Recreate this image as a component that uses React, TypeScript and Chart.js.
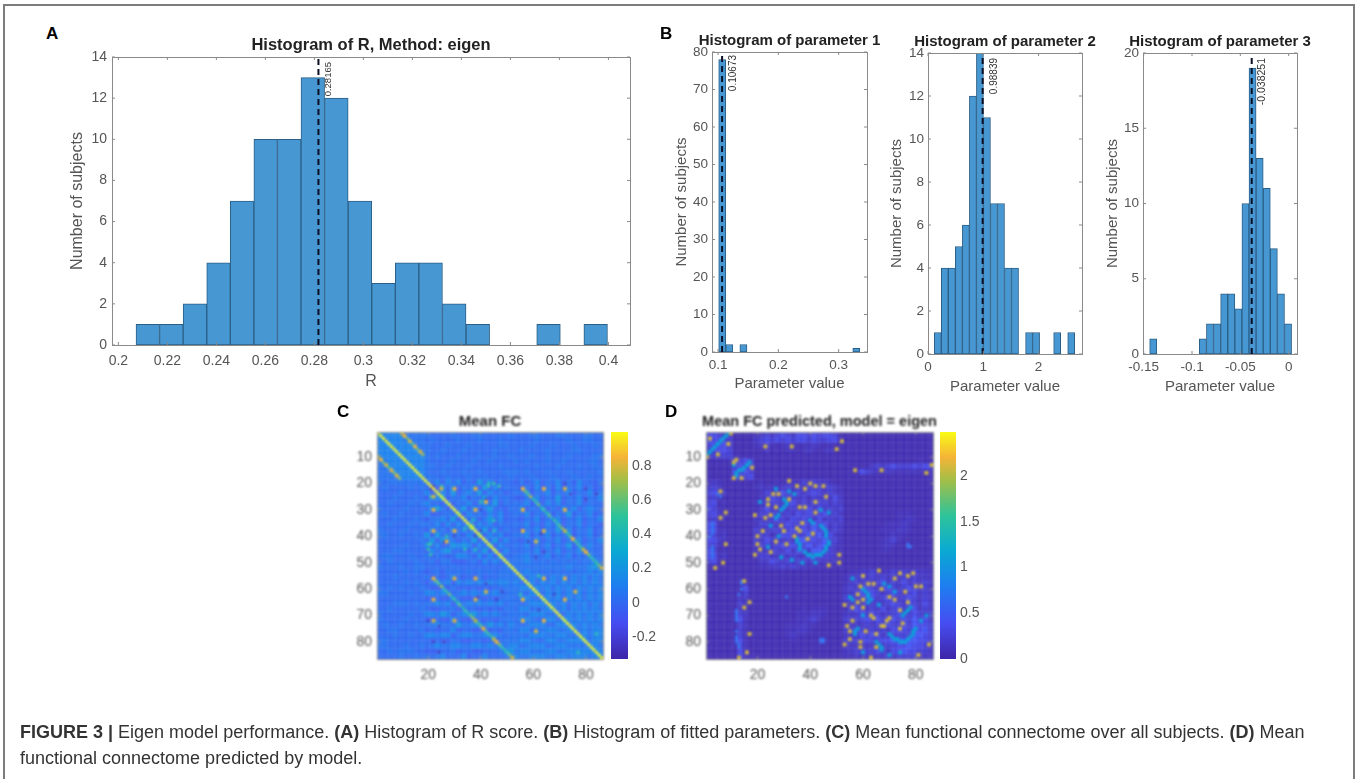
import React, { useEffect, useRef } from "react";
import { Chart, registerables } from "chart.js";

Chart.register(...registerables);

// ---------- histogram data ----------
const rCounts = [1, 1, 2, 4, 7, 10, 10, 13, 12, 7, 3, 4, 4, 2, 1, 0, 0, 1, 0, 1];
const rBinStart = 0.2072;
const rBinWidth = 0.00962;
const rMean = 0.28165;
const rTicksX = [0.2, 0.22, 0.24, 0.26, 0.28, 0.3, 0.32, 0.34, 0.36, 0.38, 0.4];
const rTicksY = [0, 2, 4, 6, 8, 10, 12, 14];

const p1Counts = [78, 2, 0, 2, 0, 0, 0, 0, 0, 0, 0, 0, 0, 0, 0, 0, 0, 0, 0, 1];
const p1BinStart = 0.1011;
const p1BinWidth = 0.0117;
const p1Mean = 0.10673;
const p1TicksX = [0.1, 0.2, 0.3];
const p1TicksY = [0, 10, 20, 30, 40, 50, 60, 70, 80];

const p2Counts = [1, 4, 4, 5, 6, 12, 14, 11, 7, 7, 4, 4, 0, 1, 1, 0, 0, 1, 0, 1];
const p2BinStart = 0.1135;
const p2BinWidth = 0.127;
const p2Mean = 0.98839;
const p2TicksX = [0, 1, 2];
const p2TicksY = [0, 2, 4, 6, 8, 10, 12, 14];

const p3Counts = [1, 0, 0, 0, 0, 0, 0, 1, 2, 2, 4, 4, 3, 10, 19, 13, 11, 7, 4, 2];
const p3BinStart = -0.1438;
const p3BinWidth = 0.00734;
const p3Mean = -0.038251;
const p3TicksX = [-0.15, -0.1, -0.05, 0];
const p3TicksY = [0, 5, 10, 15, 20];

// ---------- matrix data (upper triangle, 2x2 coarse texture, digits index the level tables) ----------
const matrixTicksX = [20, 40, 60, 80];
const matrixTicksY = [10, 20, 30, 40, 50, 60, 70, 80];

const fcLevels = [-0.24, -0.16, -0.1, -0.04, 0.01, 0.05, 0.12, 0.2, 0.3, 0.4];
const fcUpper = [
  "6666655555444454445544444544455444554445544",
  "66665555454444544454445444444544444544554",
  "6666655544454445444445544445444544454445454",
  "666665544544454444454444544445444455444",
  "6666654544454445445445444544544454444554",
  "666654444544454454444545444544544445544",
  "6665544544454444454444445444544454454",
  "6654454445445444455545444544454444450",
  "655445444544544445444544454445445",
  "5463646353746354435346354635364435",
  "63646354637363544353635363546353",
  "56473564736453454635463546354635",
  "73546354736454335463547354635464",
  "63546356473545463536463546354",
  "5473645744354635463536463565",
  "736453646345463546354735463",
  "546357463443546354635463546",
  "73646354454635364635463543",
  "647363544354635473635463",
  "73646345563546354635463",
  "64736443546354635463546",
  "736445463546354735464",
  "6364445463546354635",
  "74455645463546354654",
  "5555654545454545565",
  "555555555556555675",
  "55655454545455656",
  "6465646564656465",
  "564656465646565",
  "46564656465656",
  "6465646564656",
  "565646564656",
  "46564656465",
  "6564656565",
  "546565656",
  "66565656",
  "5656565",
  "656566",
  "56566",
  "6566",
  "665",
  "66",
  "6",
];
const fcDiagonal = [
  1, 1, 1, 0.98, 1, 1, 0.98, 1, 1, 1, 1, 0.98, 1, 1, 1, 1, 1, 0.98, 1, 1, 1, 1, 0.98, 1, 1, 1, 1, 1, 0.98, 1, 1, 1, 1, 1, 1, 0.98, 1, 1, 1, 1,
  1, 0.98, 1, 1, 1, 1, 1, 0.98, 1, 1, 1, 1, 1, 1, 0.98, 1, 1, 1, 1, 1, 0.98, 1, 1, 1, 1, 1, 1, 0.98, 1, 1, 1, 1, 1, 1, 0.98, 1, 1, 1, 1, 1,
  1, 0.98, 1, 1, 1, 1,
];
const fcBandNear = [0.78, 0.84, 0.6, 0.8, 0.55, 0.84, 0.62, 0.82, 0.7];
const fcBandFar = [
  0.84, 0.62, 0.55, 0.72, 0.42, 0.48, 0.62, 0.38, 0.52, 0.42, 0.6, 0.4, 0.5, 0.42, 0.58, 0.68, 0.75, 0.45, 0.58, 0.84, 0.52, 0.5, 0.45, 0.75, 0.84,
  0.65, 0.48, 0.45, 0.5, 0.62, 0.8,
];
const fcHotCells = [
  [22, 25, 0.8], [22, 30, 0.84], [22, 38, 0.84], [22, 64, 0.84], [22, 72, 0.8],
  [30, 38, 0.84], [30, 56, 0.84], [30, 64, 0.82], [30, 72, 0.84],
  [38, 56, 0.84], [38, 64, 0.8], [38, 72, 0.84],
  [56, 64, 0.84], [56, 72, 0.84], [64, 72, 0.84], [27, 42, 0.84], [27, 61, 0.84],
  [42, 61, 0.8], [42, 76, 0.82], [61, 76, 0.8],
  [36, 37, 0.55], [34, 37, 0.42], [20, 45, 0.5], [21, 43, 0.45], [25, 21, 0.48], [43, 20, 0.45], [21, 47, 0.48],
  [38, 45, 0.45], [27, 40, 0.48], [34, 45, 0.45], [55, 62, 0.48], [77, 84, 0.45], [51, 85, 0.48],
  [22, 21, -0.3], [30, 40, -0.25], [38, 40, -0.3], [42, 58, -0.3], [22, 80, -0.3], [39, 63, -0.3], [42, 26, -0.3],
  [61, 48, -0.3], [64, 46, -0.3], [72, 20, -0.3], [84, 24, -0.3], [68, 62, -0.3], [26, 80, -0.3], [24, 74, -0.3],
];

const predLevels = [0.02, 0.05, 0.09, 0.14, 0.22, 0.32, 0.45, 0.65, 0.9, 1.2];
const predUpper = [
  "5543311112343454355454554111111111111111111",
  "554411113454545455454455211111111111111111",
  "55411112342123212232121111111111111111111",
  "5411111131212212321231111111111111111111",
  "421111111111111111111111111111111111111",
  "5454111111111111111111111111111111121111",
  "5451111111111111111111111343454445455454",
  "5411111111111111111111543223222222222322",
  "5111111111111111111111111111111111211111",
  "121121232434332111111111111111111",
  "32323434343434321111111111111111",
  "434543434543432111111111111111",
  "54344342434353111111111111111",
  "43453434443431111111111111",
  "53434535343411111111111111",
  "435454453431111111111222111",
  "5454353434111111111122321",
  "454645343111111112223211",
  "5464534311111112223321",
  "646353211111111232211",
  "54644211111112342111",
  "564321111111232111",
  "44321111111221111",
  "4321111111111111",
  "311111111111111",
  "21111111111111",
  "12233432343434332",
  "3343434343434332",
  "434345343534343",
  "45434543454342",
  "4543454345343",
  "534543454343",
  "43454354353",
  "5345435343",
  "445345434",
  "54546453",
  "4546554",
  "546564",
  "46654",
  "6554",
  "543",
  "43",
  "3",
];
const predHotTop = [
  [3, 2], [1, 10], [5, 9], [9, 5], [10, 1], [11, 12], [12, 11], [14, 18], [18, 11], [18, 14], [6, 23], [6, 33], [4, 52], [7, 50],
  [15, 57], [15, 67], [16, 84], [13, 86], [23, 6], [33, 6], [31, 8], [43, 8], [50, 7], [52, 4],
  [57, 15], [65, 17], [67, 15], [77, 17], [84, 16], [86, 13],
];
const predHotInner = [
  [19, 32], [20, 40], [21, 42], [21, 45], [22, 38], [21, 35], [25, 46], [24, 28], [24, 26], [26, 24], [26, 32], [28, 24],
  [27, 42], [29, 27], [29, 36], [29, 38], [31, 42], [32, 19], [33, 23], [32, 25], [36, 29], [37, 35], [35, 37], [38, 30],
  [38, 22], [40, 20], [40, 34], [39, 41], [41, 39], [42, 27], [43, 31], [43, 20], [45, 21], [47, 19], [46, 25], [47, 51],
  [51, 47], [50, 51], [38, 36],
];
const predHotOuter = [
  [53, 66], [54, 74], [55, 77], [54, 79], [55, 60], [56, 72], [58, 64], [58, 62], [59, 59], [60, 67], [62, 58], [61, 76],
  [59, 82], [59, 80], [64, 60], [63, 70], [65, 77], [65, 58], [64, 72], [67, 56], [67, 60], [66, 53], [68, 74], [70, 63],
  [71, 70], [72, 69], [72, 56], [71, 64], [74, 67], [73, 75], [74, 68], [75, 74], [76, 61], [74, 54], [76, 55], [77, 65],
  [81, 85], [79, 55], [80, 59], [82, 65], [85, 81], [81, 53], [82, 59], [86, 63],
];
const predMidCells = [
  [46, 38], [47, 39], [47, 40], [48, 41], [47, 42], [47, 43], [47, 44], [46, 45], [45, 46], [44, 46], [43, 47], [42, 47],
  [26, 30], [27, 31], [28, 31], [29, 30], [30, 29], [36, 44], [37, 45], [38, 46], [39, 46], [40, 46], [33, 27], [32, 28],
  [41, 35], [42, 35], [43, 36], [44, 36], [45, 36], [23, 32], [24, 34], [34, 40], [35, 41], [30, 44], [31, 47], [48, 29],
  [49, 33], [50, 37], [50, 42], [44, 24], [40, 28], [36, 25], [27, 21], [22, 27],
  [60, 60], [61, 61], [62, 62], [63, 62], [64, 63], [65, 62], [77, 70], [78, 71], [79, 72], [79, 73], [80, 74], [80, 75],
  [80, 76], [79, 77], [78, 78], [77, 79], [76, 79], [75, 80], [70, 75], [69, 76], [68, 77], [67, 78], [80, 65], [81, 66],
  [82, 67], [83, 67], [75, 58], [76, 57], [77, 57], [63, 55], [64, 56], [58, 68], [59, 70], [61, 72], [66, 66], [72, 82],
  [70, 84], [84, 74], [85, 70], [70, 60], [56, 56], [84, 60],
  [9, 1], [8, 2], [7, 3], [6, 4], [5, 5], [4, 6], [3, 7], [2, 8], [1, 9], [12, 17], [13, 16], [14, 15], [15, 14], [16, 12], [17, 12], [13, 11], [15, 13],
];
const predSoftCells = [
  [35, 3], [36, 3], [37, 3], [38, 3], [39, 3], [40, 2], [44, 3], [45, 3], [46, 3], [47, 3], [48, 3], [24, 5], [25, 6],
  [57, 14], [58, 14], [60, 14], [62, 13], [68, 12], [69, 12], [70, 12], [71, 12], [72, 12], [76, 12], [78, 12], [79, 12], [80, 12], [81, 13], [82, 13],
  [79, 44], [80, 44], [79, 45], [80, 45], [43, 77], [44, 77], [44, 78], [63, 31],
];

// ---------- parula colormap ----------
const parulaStops: number[][] = [
  [0, 62, 38, 168], [0.16, 70, 78, 242], [0.32, 30, 125, 240], [0.48, 10, 170, 210], [0.63, 45, 195, 155],
  [0.79, 165, 190, 70], [0.89, 245, 180, 55], [1, 249, 251, 21],
];

function parula(t: number) {
  const v = Math.max(0, Math.min(1, t));
  for (let i = 1; i < parulaStops.length; i++) {
    const a = parulaStops[i - 1];
    const b = parulaStops[i];
    if (v <= b[0]) {
      const f = (v - a[0]) / (b[0] - a[0]);
      const c = [1, 2, 3].map((k) => Math.round(a[k] + (b[k] - a[k]) * f));
      return `rgb(${c[0]},${c[1]},${c[2]})`;
    }
  }
  return "rgb(249,251,21)";
}

const TICK_COLOR = "#555";
const FONT = "'Liberation Sans', Arial, sans-serif";
const M = { l: 50, t: 40, r: 50, b: 52 };

function boxFor(r: any) {
  return { left: r.L - M.l, top: r.T - M.t, width: M.l + r.R - r.L + M.r, height: M.t + r.B - r.T + M.b };
}

const frameBox = {
  id: "frameBox",
  afterDatasetsDraw(chart: any) {
    const { ctx, chartArea: a, scales } = chart;
    ctx.save();
    ctx.strokeStyle = "#8a8a8a";
    ctx.lineWidth = 1;
    ctx.strokeRect(a.left + 0.5, a.top + 0.5, a.right - a.left, a.bottom - a.top);
    ctx.beginPath();
    for (const t of scales.x.ticks) {
      const p = scales.x.getPixelForValue(t.value);
      ctx.moveTo(p, a.bottom);
      ctx.lineTo(p, a.bottom - 3);
      ctx.moveTo(p, a.top);
      ctx.lineTo(p, a.top + 3);
    }
    for (const t of scales.y.ticks) {
      const p = scales.y.getPixelForValue(t.value);
      ctx.moveTo(a.left, p);
      ctx.lineTo(a.left + 3, p);
      ctx.moveTo(a.right, p);
      ctx.lineTo(a.right - 3, p);
    }
    ctx.stroke();
    ctx.restore();
  },
};

const meanLabel = {
  id: "meanLabel",
  afterDatasetsDraw(chart: any, _args: any, opts: any) {
    if (!opts || !opts.text) return;
    const { ctx, chartArea: a, scales } = chart;
    ctx.save();
    ctx.translate(scales.x.getPixelForValue(opts.mean) + opts.dx, a.top + opts.dy);
    ctx.rotate(-Math.PI / 2);
    ctx.font = `${opts.size}px ${FONT}`;
    ctx.fillStyle = "#333";
    ctx.textAlign = "right";
    ctx.textBaseline = "middle";
    ctx.fillText(opts.text, 0, 0);
    ctx.restore();
  },
};

function commonOptions(p: any) {
  const r = p.rect;
  const titleLh = p.titleSize * 1.2;
  const tickLh = p.tickSize * 1.2;
  const yLh = p.labelSize * 1.2;
  const xTitle = p.xLabel
    ? {
        display: true,
        text: p.xLabel,
        color: TICK_COLOR,
        font: { family: FONT, size: p.labelSize },
        padding: { top: 0, bottom: r.B + M.b - p.xLabelY - yLh / 2 },
      }
    : { display: false };
  const yTitle = p.yLabel
    ? {
        display: true,
        text: p.yLabel,
        color: TICK_COLOR,
        font: { family: FONT, size: p.labelSize },
        padding: { top: p.yLabelX - (r.L - M.l) - yLh / 2, bottom: 0 },
      }
    : { display: false };
  return {
    responsive: false,
    animation: false,
    devicePixelRatio: 1,
    events: [],
    layout: { autoPadding: false, padding: 0 },
    plugins: {
      legend: { display: false },
      tooltip: { enabled: false },
      title: {
        display: true,
        text: p.title,
        color: "#222",
        font: { family: FONT, size: p.titleSize, weight: "bold" },
        padding: { top: M.t - titleLh - (p.titleGap - titleLh / 2), bottom: p.titleGap - titleLh / 2 },
      },
      meanLabel: p.meanLabel,
    },
    scales: {
      x: {
        type: "linear",
        offset: false,
        min: p.xMin,
        max: p.xMax,
        grid: { display: false, drawTicks: false },
        border: { display: false },
        afterBuildTicks: (s: any) => {
          s.ticks = p.xTicks.map((value: number) => ({ value }));
        },
        afterFit: (s: any) => {
          s.height = M.b;
        },
        ticks: {
          color: TICK_COLOR,
          font: { family: FONT, size: p.tickSize },
          padding: p.xTickGap - tickLh / 2,
          autoSkip: false,
          maxRotation: 0,
          callback: (v: number) => String(v),
        },
        title: xTitle,
      },
      y: {
        type: "linear",
        min: p.yMin,
        max: p.yMax,
        reverse: !!p.yReverse,
        grid: { display: false, drawTicks: false },
        border: { display: false },
        afterBuildTicks: (s: any) => {
          s.ticks = p.yTicks.map((value: number) => ({ value }));
        },
        afterFit: (s: any) => {
          s.width = M.l;
        },
        ticks: {
          color: TICK_COLOR,
          font: { family: FONT, size: p.tickSize },
          padding: p.yTickPad,
          autoSkip: false,
          maxRotation: 0,
          callback: (v: number) => String(v),
        },
        title: yTitle,
      },
      spacer: {
        type: "linear",
        position: "right",
        grid: { display: false, drawTicks: false },
        border: { display: false },
        ticks: { display: false },
        afterFit: (s: any) => {
          s.width = M.r;
        },
      },
    },
  };
}

function histConfig(p: any) {
  const bars = p.counts.map((y: number, k: number) => ({ x: p.binStart + p.binWidth * (k + 0.5), y }));
  return {
    type: "bar",
    data: {
      datasets: [
        {
          type: "bar",
          data: bars,
          backgroundColor: "#4797d2",
          borderColor: "#2c5f87",
          borderWidth: 1,
          borderSkipped: false,
          barPercentage: 1,
          categoryPercentage: 1,
          order: 2,
        },
        {
          type: "line",
          data: [
            { x: p.mean, y: p.yMin },
            { x: p.mean, y: p.yMax },
          ],
          borderColor: "#0b0f24",
          borderWidth: 2,
          borderDash: [6, 4],
          pointRadius: 0,
          order: 1,
        },
      ],
    },
    options: commonOptions(p),
    plugins: [frameBox, meanLabel],
  };
}

function expandMatrix(upper: string[], levels: number[], fallback: string, overrides: Map<number, number>, lo: number, hi: number, bigFrom: number, bigTo: number, bigRadius: number) {
  const cells: any[] = [];
  for (let r = 1; r <= 86; r++) {
    for (let c = 1; c <= 86; c++) {
      const a = Math.min(r, c);
      const b = Math.max(r, c);
      const k = Math.floor((a - 1) / 2);
      const j = Math.floor((b - 1) / 2);
      const ch = upper[k]?.[j - k] ?? fallback;
      const key = r * 100 + c;
      const v = overrides.has(key) ? (overrides.get(key) as number) : levels[Number(ch)];
      cells.push({ x: c, y: r, v });
    }
  }
  cells.sort((p, q) => p.v - q.v);
  return cells.map((d) => ({ x: d.x, y: d.y, radius: d.v >= bigFrom && d.v < bigTo ? bigRadius : 2.0, color: parula((d.v - lo) / (hi - lo)) }));
}

function fcCells() {
  const o = new Map<number, number>();
  const put = (r: number, c: number, v: number) => {
    o.set(r * 100 + c, v);
    o.set(c * 100 + r, v);
  };
  fcHotCells.forEach(([r, c, v]) => put(r, c, v));
  fcBandNear.forEach((v, i) => put(i + 1, i + 10, v));
  fcBandFar.forEach((v, i) => put(i + 22, i + 56, v));
  fcDiagonal.forEach((v, i) => put(i + 1, i + 1, v));
  return expandMatrix(fcUpper, fcLevels, "4", o, fcRange[0], fcRange[1], 0.75, 0.95, 2.6);
}

function predCells() {
  const o = new Map<number, number>();
  predSoftCells.forEach(([r, c]) => o.set(r * 100 + c, 0.65));
  predMidCells.forEach(([r, c]) => o.set(r * 100 + c, 1.1));
  predHotTop.forEach(([r, c]) => o.set(r * 100 + c, 2.1));
  predHotInner.forEach(([r, c]) => o.set(r * 100 + c, 2.1));
  predHotOuter.forEach(([r, c]) => o.set(r * 100 + c, 2.1));
  return expandMatrix(predUpper, predLevels, "1", o, predRange[0], predRange[1], 1.0, 3, 2.7);
}

const fcRange = [-0.33, 1.0];
const predRange = [0, 2.48];
const fcBarTicks = [-0.2, 0, 0.2, 0.4, 0.6, 0.8];
const predBarTicks = [0, 0.5, 1, 1.5, 2];

function matrixConfig(p: any, cells: any[]) {
  return {
    type: "scatter",
    data: {
      datasets: [
        {
          data: cells,
          pointStyle: "rect",
          pointRadius: cells.map((c) => c.radius),
          pointBorderWidth: 0,
          pointBackgroundColor: cells.map((c) => c.color),
          showLine: false,
          normalized: true,
        },
      ],
    },
    options: commonOptions(p),
    plugins: [frameBox],
  };
}

function colorbarConfig(range: number[], ticks: number[]) {
  const label = ["colorbar"];
  return {
    type: "bar",
    data: {
      labels: label,
      datasets: [
        {
          data: [[range[0], range[1]]],
          barPercentage: 1,
          categoryPercentage: 1,
          borderWidth: 0,
          backgroundColor: (ctx: any) => {
            const a = ctx.chart.chartArea;
            if (!a) return "#3e26a8";
            const g = ctx.chart.ctx.createLinearGradient(0, a.bottom, 0, a.top);
            parulaStops.forEach((s) => g.addColorStop(s[0], `rgb(${s[1]},${s[2]},${s[3]})`));
            return g;
          },
        },
      ],
    },
    options: {
      responsive: false,
      animation: false,
      devicePixelRatio: 1,
      events: [],
      layout: { autoPadding: false, padding: { left: 0, top: M.t, right: 0, bottom: M.b } },
      plugins: { legend: { display: false }, tooltip: { enabled: false } },
      scales: {
        x: { display: false },
        y: {
          position: "right",
          min: range[0],
          max: range[1],
          grid: { display: false, drawTicks: false },
          border: { display: false },
          afterBuildTicks: (s: any) => {
            s.ticks = ticks.map((value: number) => ({ value }));
          },
          afterFit: (s: any) => {
            s.width = 44;
          },
          ticks: {
            color: TICK_COLOR,
            font: { family: FONT, size: 14 },
            padding: 4,
            autoSkip: false,
            callback: (v: number) => String(v),
          },
        },
      },
    },
  };
}

// ---------- panels ----------
const histShared = { titleSize: 15, tickSize: 13.5, labelSize: 15, yLabel: "Number of subjects", xLabel: "Parameter value", titleGap: 11, xTickGap: 13, yTickPad: 4 };

const panelA = {
  ...histShared,
  rect: { L: 112, R: 630, T: 57, B: 345 },
  title: "Histogram of R, Method: eigen",
  titleSize: 16.5,
  titleGap: 12,
  tickSize: 14,
  labelSize: 16,
  xLabel: "R",
  xLabelY: 381.7,
  yLabelX: 78,
  xTickGap: 15.7,
  yTickPad: 5,
  counts: rCounts,
  binStart: rBinStart,
  binWidth: rBinWidth,
  mean: rMean,
  xMin: 0.1974,
  xMax: 0.4088,
  yMin: 0,
  yMax: 14,
  xTicks: rTicksX,
  yTicks: rTicksY,
  meanLabel: { text: "0.28165", mean: rMean, dx: 10, dy: 5, size: 9.5 },
};

const panelB1 = {
  ...histShared,
  rect: { L: 712, R: 867, T: 52, B: 352 },
  title: "Histogram of parameter 1",
  xLabelY: 384,
  yLabelX: 681.7,
  counts: p1Counts,
  binStart: p1BinStart,
  binWidth: p1BinWidth,
  mean: p1Mean,
  xMin: 0.09,
  xMax: 0.347,
  yMin: 0,
  yMax: 80,
  xTicks: p1TicksX,
  yTicks: p1TicksY,
  meanLabel: { text: "0.10673", mean: p1Mean, dx: 11, dy: 3, size: 10 },
};

const panelB2 = {
  ...histShared,
  rect: { L: 928, R: 1082, T: 53, B: 354 },
  title: "Histogram of parameter 2",
  xLabelY: 386.7,
  yLabelX: 896.7,
  counts: p2Counts,
  binStart: p2BinStart,
  binWidth: p2BinWidth,
  mean: p2Mean,
  xMin: 0,
  xMax: 2.785,
  yMin: 0,
  yMax: 14,
  xTicks: p2TicksX,
  yTicks: p2TicksY,
  meanLabel: { text: "0.98839", mean: p2Mean, dx: 12, dy: 5, size: 10 },
};

const panelB3 = {
  ...histShared,
  rect: { L: 1143, R: 1297, T: 53, B: 354 },
  title: "Histogram of parameter 3",
  xLabelY: 386.7,
  yLabelX: 1113.3,
  counts: p3Counts,
  binStart: p3BinStart,
  binWidth: p3BinWidth,
  mean: p3Mean,
  xMin: -0.1507,
  xMax: 0.0086,
  yMin: 0,
  yMax: 20,
  xTicks: p3TicksX,
  yTicks: p3TicksY,
  meanLabel: { text: "-0.038251", mean: p3Mean, dx: 10, dy: 5, size: 10.5 },
};

const matrixShared = { tickSize: 14, labelSize: 15, titleGap: 10.3, xTickGap: 16, yTickPad: 5, xMin: 0.5, xMax: 86.5, yMin: 0.5, yMax: 86.5, yReverse: true, xTicks: matrixTicksX, yTicks: matrixTicksY };
const panelC = { ...matrixShared, rect: { L: 377, R: 603, T: 432, B: 659 }, title: "Mean FC", titleSize: 15 };
const panelD = { ...matrixShared, rect: { L: 706, R: 933, T: 432, B: 659 }, title: "Mean FC predicted, model = eigen", titleSize: 14.5 };
const barC = { L: 611, R: 628, T: 432, B: 659 };
const barD = { L: 940, R: 956, T: 432, B: 659 };

const panelLetters = [
  { text: "A", x: 46, y: 24 },
  { text: "B", x: 660, y: 24 },
  { text: "C", x: 337, y: 402 },
  { text: "D", x: 665, y: 402 },
];

function ChartCanvas({ box, build, blur }: { box: any; build: () => any; blur: number }) {
  const ref = useRef<HTMLCanvasElement | null>(null);
  useEffect(() => {
    const chart = new Chart(ref.current as any, build());
    return () => chart.destroy();
  }, []);
  return (
    <canvas
      ref={ref}
      width={box.width}
      height={box.height}
      style={{ position: "absolute", left: box.left, top: box.top, width: box.width, height: box.height, display: "block", filter: `blur(${blur}px)` }}
    />
  );
}

export default function App() {
  const barBoxC = { left: barC.L, top: barC.T - M.t, width: barC.R - barC.L + 44, height: barC.B - barC.T + M.t + M.b };
  const barBoxD = { left: barD.L, top: barD.T - M.t, width: barD.R - barD.L + 44, height: barD.B - barD.T + M.t + M.b };
  return (
    <div style={{ position: "absolute", left: 0, top: 0, width: 1359, height: 779, overflow: "hidden", background: "#fff", fontFamily: FONT }}>
      <div style={{ position: "absolute", left: 3, top: 4, width: 1348, height: 790, borderTop: "2px solid #7c7c7c", borderLeft: "2px solid #7c7c7c", borderRight: "2px solid #7c7c7c" }} />
      <ChartCanvas box={boxFor(panelA.rect)} blur={0.6} build={() => histConfig(panelA)} />
      <ChartCanvas box={boxFor(panelB1.rect)} blur={0.6} build={() => histConfig(panelB1)} />
      <ChartCanvas box={boxFor(panelB2.rect)} blur={0.6} build={() => histConfig(panelB2)} />
      <ChartCanvas box={boxFor(panelB3.rect)} blur={0.6} build={() => histConfig(panelB3)} />
      <ChartCanvas box={boxFor(panelC.rect)} blur={0.8} build={() => matrixConfig(panelC, fcCells())} />
      <ChartCanvas box={boxFor(panelD.rect)} blur={0.8} build={() => matrixConfig(panelD, predCells())} />
      <ChartCanvas box={barBoxC} blur={0.6} build={() => colorbarConfig(fcRange, fcBarTicks)} />
      <ChartCanvas box={barBoxD} blur={0.6} build={() => colorbarConfig(predRange, predBarTicks)} />
      {panelLetters.map((l) => (
        <div key={l.text} style={{ position: "absolute", left: l.x, top: l.y, fontSize: 17, fontWeight: "bold", lineHeight: "19px", color: "#000" }}>
          {l.text}
        </div>
      ))}
      <div style={{ position: "absolute", left: 20, top: 719, fontSize: 18, lineHeight: "26px", color: "#333", whiteSpace: "nowrap", filter: "blur(0.3px)" }}>
        <div>
          <b>FIGURE 3 |</b> Eigen model performance. <b>(A)</b> Histogram of R score. <b>(B)</b> Histogram of fitted parameters. <b>(C)</b> Mean functional connectome over all subjects. <b>(D)</b> Mean
        </div>
        <div>functional connectome predicted by model.</div>
      </div>
    </div>
  );
}
